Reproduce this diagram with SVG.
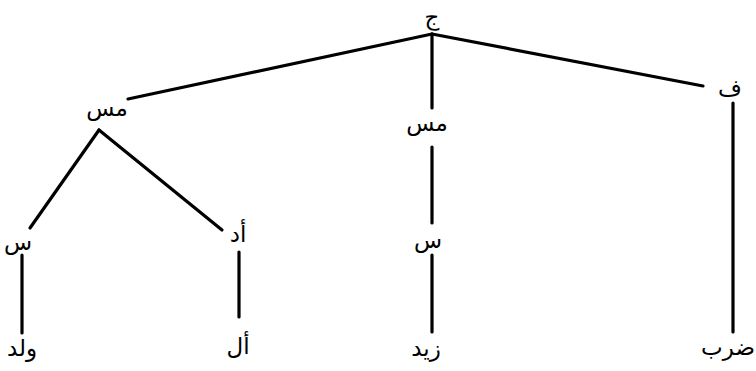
<svg xmlns="http://www.w3.org/2000/svg" width="756" height="371" viewBox="0 0 756 371">
<style>
.e{stroke:#000;stroke-width:3.2;stroke-linecap:round;fill:none}
.t{font-family:"DejaVu Sans",sans-serif;font-size:23px;fill:#000;text-anchor:middle}
</style>
<rect width="756" height="371" fill="#fff"/>
<g id="connectors">
<line class="e" x1="432" y1="34" x2="128" y2="99"/>
<line class="e" x1="432" y1="34" x2="432" y2="108"/>
<line class="e" x1="432" y1="34" x2="703" y2="86"/>
<line class="e" x1="99" y1="130" x2="30" y2="228"/>
<line class="e" x1="99" y1="130" x2="222" y2="230"/>
<line class="e" x1="432" y1="147" x2="432" y2="223"/>
<line class="e" x1="733" y1="103" x2="733" y2="332"/>
<line class="e" x1="22" y1="255" x2="22" y2="333"/>
<line class="e" x1="239" y1="252" x2="239" y2="317"/>
<line class="e" x1="432" y1="255" x2="432" y2="332"/>
</g>
<g id="n-j"><text class="t" x="432" y="25">ج</text></g>
<g id="n-ms1"><text class="t" x="107" y="116">مس</text></g>
<g id="n-ms2"><text class="t" x="427" y="131">مس</text></g>
<g id="n-f"><text class="t" x="730" y="96">ف</text></g>
<g id="n-s1"><text class="t" x="18" y="250">س</text></g>
<g id="n-ad"><text class="t" x="238" y="242">أد</text></g>
<g id="n-s2"><text class="t" x="428" y="248">س</text></g>
<g id="n-wld"><text class="t" x="22" y="356">ولد</text></g>
<g id="n-al"><text class="t" x="238" y="354">أل</text></g>
<g id="n-zyd"><text class="t" x="426" y="356">زيد</text></g>
<g id="n-drb"><text class="t" x="728" y="355">ضرب</text></g>
</svg>
